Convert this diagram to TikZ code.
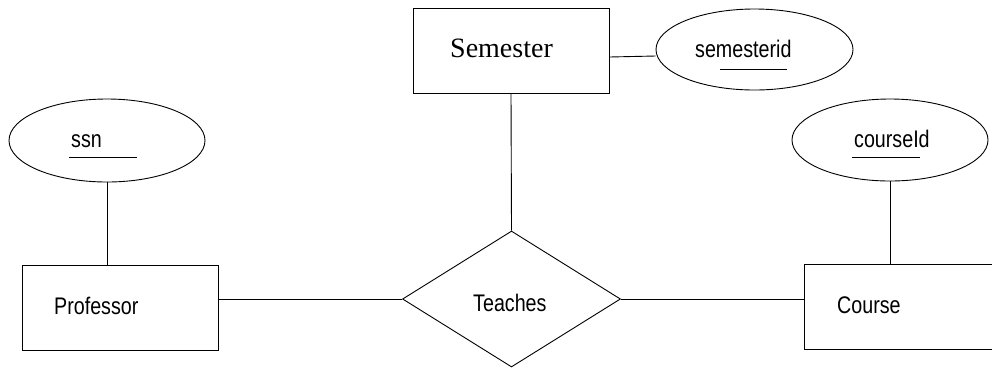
\documentclass[tikz,border=0pt]{standalone}
\usepackage{fontspec}
\setmainfont{Liberation Serif}
\setsansfont[FakeStretch=0.82]{Liberation Sans}
\usetikzlibrary{shapes.geometric}
\begin{document}
\begin{tikzpicture}[x=1pt,y=-1pt,
  ln/.style={line width=0.9pt, draw=black},
  ent/.style={ln, rectangle, inner sep=0pt},
  attr/.style={ln, ellipse, inner sep=0pt},
  rel/.style={ln, diamond, inner sep=0pt},
  lbl/.style={font=\sffamily\fontsize{24}{28}\selectfont, inner sep=0pt, anchor=base west},
]
\useasboundingbox (0,0) rectangle (992,368);
\clip (0,0) rectangle (992,368);
% shapes
\node[ent, minimum width=196pt, minimum height=85pt] (sem) at (511,50.5) {};
\node[ent, minimum width=196pt, minimum height=85pt] (prof) at (120,307.5) {};
\node[ent, minimum width=200pt, minimum height=85pt] (course) at (904,306.5) {};
\node[rel, minimum width=218pt, minimum height=136pt] (teaches) at (511.5,299) {};
\node[attr, minimum width=197pt, minimum height=81pt] (semid) at (754.5,49.5) {};
\node[attr, minimum width=196pt, minimum height=83pt] (ssn) at (107,140.5) {};
\node[attr, minimum width=196pt, minimum height=82pt] (cid) at (890,140) {};
% texts
\node[lbl, font=\rmfamily\fontsize{28}{32}\selectfont] (semT) at (450,57) {Semester};
\node[lbl] (profT) at (54,314) {Professor};
\node[lbl] (teachT) at (473,311) {Teaches};
\node[lbl] (courseT) at (837,313) {Course};
\node[lbl] (semidT) at (695,57) {semesterid};
\node[lbl] (ssnT) at (71,147) {ssn};
\node[lbl] (cidT) at (854,147) {courseId};
% underlines
\draw[ln] (69,157) -- (137,157);
\draw[ln] (852,157) -- (920,157);
\draw[ln] (720,69) -- (787,69);
% connectors
\draw[ln] (ssn.south) -- (ssn.south |- prof.north);
\draw[ln] (teaches.west -| prof.east) -- (teaches.west);
\draw[ln] (sem.south) -- (teaches.north);
\draw[ln] ([yshift=-6.5pt]sem.east) -- ([yshift=-6.5pt]semid.west);
\draw[ln] (teaches.east) -- (teaches.east -| course.west);
\draw[ln] (cid.south) -- (cid.south |- course.north);
\end{tikzpicture}
\end{document}
